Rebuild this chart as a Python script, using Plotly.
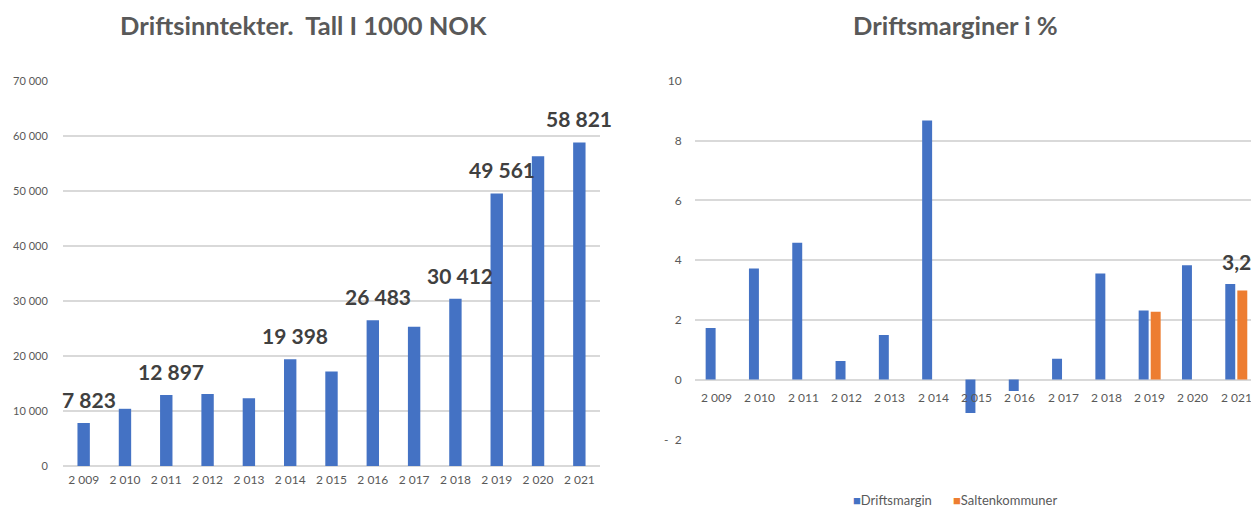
import plotly.graph_objects as go

# ---- data ----
years = ["2009", "2010", "2011", "2012", "2013", "2014", "2015",
         "2016", "2017", "2018", "2019", "2020", "2021"]
year_labels = ["2 009", "2 010", "2 011", "2 012", "2 013", "2 014", "2 015",
               "2 016", "2 017", "2 018", "2 019", "2 020", "2 021"]

# Driftsinntekter, 1000 NOK
inntekter = [7823, 10400, 12897, 13100, 12300, 19398, 17200,
             26483, 25300, 30412, 49561, 56300, 58821]
inntekter_labels = ["7 823", "", "12 897", "", "", "19 398", "",
                    "26 483", "", "30 412", "49 561", "", "58 821"]
inntekter_ticks = [0, 10000, 20000, 30000, 40000, 50000, 60000, 70000]
inntekter_ticktext = ["0", "10 000", "20 000", "30 000", "40 000",
                      "50 000", "60 000", "70 000"]

# Driftsmarginer, %
driftsmargin = [1.73, 3.72, 4.58, 0.62, 1.49, 8.68, -1.12,
                -0.38, 0.70, 3.55, 2.31, 3.83, 3.2]
saltenkommuner = [None, None, None, None, None, None, None,
                  None, None, None, 2.27, None, 2.98]
margin_label_year = "2021"
margin_label_text = "3,2"
margin_ticks = [-2, 0, 2, 4, 6, 8, 10]
margin_ticktext = ["-  2", "0", "2", "4", "6", "8", "10"]
series_names = ["Driftsmargin", "Saltenkommuner"]

BLUE = "#4472C4"
ORANGE = "#ED7D31"
GRID = "#D9D9D9"
TXT = "#595959"
LBL = "#404040"
FONT = "Lato, 'Open Sans', sans-serif"

W, H = 1251, 510


def px_x(a, b):
    return [a / W, b / W]


def px_y(top, bottom):
    return [(H - bottom) / H, (H - top) / H]


fig = go.Figure()

# left chart: operating income
fig.add_trace(go.Bar(
    x=years, y=inntekter, marker=dict(color=BLUE, line=dict(width=0)),
    width=0.3, xaxis="x", yaxis="y", showlegend=False,
))

# value labels above selected income bars
last = len(years) - 1
for i, (val, lab) in enumerate(zip(inntekter, inntekter_labels)):
    if not lab:
        continue
    fig.add_annotation(x=i, y=val, xref="x", yref="y", text="<b>" + lab + "</b>",
                       showarrow=False, xanchor="center", yanchor="bottom",
                       xshift=0 if i == last else 5, yshift=9,
                       font=dict(size=21, color=LBL, family=FONT))

# right chart: operating margins
fig.add_trace(go.Bar(
    x=years, y=driftsmargin, name=series_names[0],
    marker=dict(color=BLUE, line=dict(width=0)),
    width=0.23, offset=-0.254, xaxis="x2", yaxis="y2", showlegend=False,
))
fig.add_trace(go.Bar(
    x=years, y=saltenkommuner, name=series_names[1],
    marker=dict(color=ORANGE, line=dict(width=0)),
    width=0.23, offset=0.024, xaxis="x2", yaxis="y2", showlegend=False,
))

# category labels along the zero line of the margin chart
for i, lab in enumerate(year_labels):
    fig.add_annotation(x=i, y=0, xref="x2", yref="y2", text=lab,
                       showarrow=False, xanchor="center", yanchor="top",
                       yshift=-8, font=dict(size=12, color=TXT, family=FONT))

# value label for the latest margin
mi = years.index(margin_label_year)
fig.add_annotation(x=mi, y=driftsmargin[mi], xref="x2", yref="y2",
                   text="<b>" + margin_label_text + "</b>", showarrow=False,
                   xanchor="center", yanchor="bottom", yshift=8,
                   font=dict(size=21, color=LBL, family=FONT))

# compact legend below the margin chart: colour square followed by name
for name, color, left in zip(series_names, [BLUE, ORANGE], [852, 952]):
    fig.add_annotation(
        x=left / W, y=(H - 500) / H, xref="paper", yref="paper",
        xanchor="left", yanchor="middle", showarrow=False, borderpad=0,
        text="<span style='color:%s'>■</span>%s" % (color, name),
        font=dict(size=13, color=TXT, family=FONT))

# titles
fig.add_annotation(x=303 / W, y=(H - 25) / H, xref="paper", yref="paper",
                   xanchor="center", yanchor="middle",
                   text="<b>Driftsinntekter.  Tall I 1000 NOK</b>", showarrow=False,
                   font=dict(size=25.5, color=TXT, family=FONT))
fig.add_annotation(x=955 / W, y=(H - 25) / H, xref="paper", yref="paper",
                   xanchor="center", yanchor="middle",
                   text="<b>Driftsmarginer i %</b>", showarrow=False,
                   font=dict(size=25.5, color=TXT, family=FONT))

fig.update_layout(
    width=W, height=H,
    margin=dict(l=0, r=0, t=0, b=0, autoexpand=False),
    paper_bgcolor="white", plot_bgcolor="white",
    font=dict(family=FONT, color=TXT, size=12),
    barmode="overlay", showlegend=False,
    xaxis=dict(domain=px_x(63, 600), type="category", range=[-0.5, 12.5],
               showgrid=False, showline=False, zeroline=False, automargin=False,
               ticks="outside", ticklen=3, tickcolor="rgba(0,0,0,0)",
               tickvals=years, ticktext=year_labels,
               tickfont=dict(size=12, color=TXT), anchor="y"),
    yaxis=dict(domain=px_y(81, 466), range=[0, 70000], automargin=False,
               tickvals=inntekter_ticks, ticktext=inntekter_ticktext,
               showgrid=True, gridcolor=GRID, gridwidth=1.5,
               zeroline=True, zerolinecolor=GRID, zerolinewidth=1.5,
               showline=False, ticks="outside", ticklen=12,
               tickcolor="rgba(0,0,0,0)", tickfont=dict(size=11, color=TXT),
               anchor="x"),
    xaxis2=dict(domain=px_x(695, 1251), type="category", range=[-0.5, 12.34],
                showgrid=False, showline=False, zeroline=False, automargin=False,
                showticklabels=False, anchor="y2"),
    yaxis2=dict(domain=px_y(81, 439.3), range=[-2, 10], automargin=False,
                tickvals=margin_ticks, ticktext=margin_ticktext,
                showgrid=True, gridcolor=GRID, gridwidth=1.5,
                zeroline=True, zerolinecolor=GRID, zerolinewidth=1.5,
                showline=False, ticks="outside", ticklen=10,
                tickcolor="rgba(0,0,0,0)", tickfont=dict(size=12, color=TXT),
                anchor="x2"),
)

fig.write_html("out.html")
